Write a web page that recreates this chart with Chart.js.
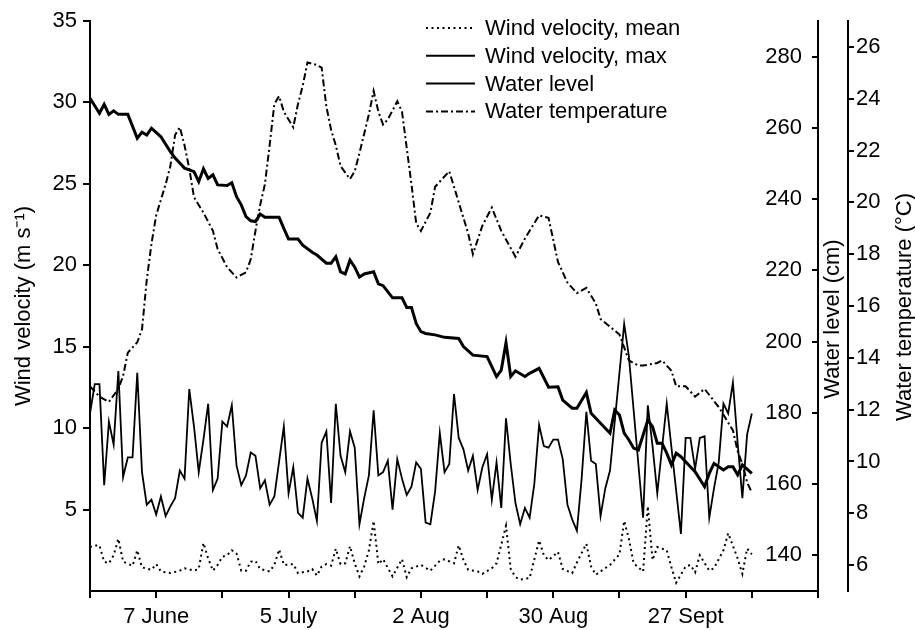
<!DOCTYPE html>
<html>
<head>
<meta charset="utf-8">
<script src="https://cdn.jsdelivr.net/npm/chart.js@4.4.0/dist/chart.umd.min.js"></script>
<style>
  html, body { margin: 0; padding: 0; background: #fff; }
</style>
</head>
<body>
<canvas id="myChart" width="915" height="630"></canvas>
<script>
// days counted from 24 May (x tick every 14 days)
const xTicks = [0, 14, 28, 42, 56, 70, 84, 98, 112, 126, 140, 154];
const xTickLabels = ['', '7 June', '', '5 July', '', '2 Aug', '', '30 Aug', '', '27 Sept', '', ''];
const windTicks = [5, 10, 15, 20, 25, 30, 35];
const levelTicks = [140, 160, 180, 200, 220, 240, 260, 280];
const tempTicks = [6, 8, 10, 12, 14, 16, 18, 20, 22, 24, 26];

const windMeanDays = [0,1,2,3,4,5,6,7,9,10,11,13,14,15,17,19,20,22,23,24,25,26,27,28,29,30,31,32,33,34,35,36,38,39,40,41,43,44,46,47,48,49,50,51,52,53,54,55,56,57,58,59,60,61,62,64,66,67,68,70,72,74,75,77,78,79,80,82,83,85,86,88,89,90,91,93,95,96,97,99,100,102,103,105,106,107,108,110,112,113,114,115,117,118,119,120,122,123,124,126,127,128,129,131,132,134,135,137,138,139,140];
const windMean = [2.7,2.8,2.8,1.8,1.7,2.2,3.2,1.8,1.55,2.5,1.45,1.3,1.65,1.2,1.1,1.25,1.4,1.25,1.35,2.95,2.0,1.25,1.6,2.1,2.2,2.5,2.3,1.25,1.25,1.8,1.85,1.35,1.2,1.6,2.55,1.6,1.65,1.1,1.2,1.35,0.95,1.5,1.65,1.55,2.6,1.65,1.7,2.75,1.7,0.9,1.5,2.5,4.3,1.65,1.95,0.9,1.95,0.85,1.4,1.6,1.25,1.85,1.95,1.7,2.8,1.9,1.3,1.2,1.05,1.4,1.7,4.0,1.35,0.85,0.7,0.8,3.1,2.2,1.9,2.4,1.35,1.1,1.75,2.9,1.5,1.0,1.2,1.6,2.25,4.3,3.2,1.7,1.2,5.2,1.9,2.7,2.5,1.45,0.5,1.5,1.6,1.15,2.2,1.25,1.4,2.5,3.55,2.0,1.05,2.6,2.25];

const windMaxDays = [0,1,2,3,4,5,6,7,8,9,10,11,12,13,14,15,16,17,18,19,20,21,22,23,24,25,26,27,28,29,30,31,32,33,34,35,36,37,38,39,41,42,43,44,45,46,47,48,49,50,51,52,53,54,55,56,57,58,59,60,61,62,63,64,65,66,67,68,69,70,71,72,73,74,75,76,77,78,79,80,81,82,83,84,85,86,87,88,89,90,91,92,93,94,95,96,97,98,99,100,101,102,103,104,105,106,107,108,109,110,113,114,117,118,119,120,122,123,125,126,127,128,129,130,131,132,133,134,135,136,137,138,139,140];
const windMax = [10.9,12.7,12.7,6.5,10.4,9.0,13.5,7.0,8.2,8.2,13.4,7.3,5.3,5.6,4.7,5.8,4.6,5.2,5.7,7.4,6.9,12.4,10.1,7.3,9.3,11.5,6.2,6.9,10.4,10.1,11.4,7.7,6.5,7.1,8.5,8.3,6.3,6.8,5.3,5.8,10.1,6.0,7.6,4.8,4.5,6.9,5.7,4.3,9.1,9.8,5.4,11.5,8.3,7.3,9.8,8.8,4.1,5.7,7.1,11.1,7.1,7.3,8.0,5.0,8.1,6.9,5.9,6.4,7.9,7.5,4.2,4.1,6.1,9.7,7.3,7.8,12.1,9.4,8.7,7.4,8.3,6.2,7.6,8.4,5.6,7.9,5.1,10.6,7.8,5.4,4.1,5.1,4.5,6.6,10.2,8.9,8.8,9.3,9.3,8.1,5.3,4.4,3.7,6.9,11.0,8.0,7.8,4.6,6.3,7.4,16.4,14.4,4.5,11.4,8.9,6.0,11.5,8.8,3.5,9.4,9.4,7.5,9.4,9.5,4.5,6.3,7.9,11.5,10.9,12.8,9.1,5.7,9.6,10.9];

const levelDays = [0,2,3,4,5,6,8,10,11,12,13,15,17,18,20,22,23,24,25,26,27,29,30,31,32,33,34,35,36,37,40,41,42,44,45,47,48,50,51,52,53,54,55,56,57,58,60,61,62,64,66,67,68,69,70,71,73,75,78,79,81,84,86,87,88,89,90,92,93,95,97,99,100,102,103,105,106,110,111,112,113,114,115,116,118,119,120,121,122,123,124,125,127,128,130,131,132,134,135,136,137,138,140];
const waterLevel = [268.3,264.1,266.6,263.8,264.8,263.8,263.8,257.1,258.8,258.0,259.9,257.5,253.3,251.5,248.7,247.7,244.9,248.5,245.8,246.8,244.0,243.8,244.6,240.7,238.4,235.1,233.9,233.7,235.8,234.9,234.9,231.8,228.8,228.8,227.1,225.1,224.3,222.0,222.0,223.8,219.6,219.0,222.9,220.9,218.1,219.0,219.6,216.2,215.7,212.3,212.3,209.6,209.6,205.1,202.8,202.3,201.9,201.2,200.9,198.6,196.2,195.8,190.2,192.0,199.7,190.2,191.8,190.2,191.1,192.5,187.2,187.3,183.6,181.3,181.3,185.7,179.9,174.3,180.8,179.4,174.3,172.4,170.1,169.6,178.0,176.1,171.5,171.5,168.7,165.4,168.7,167.7,164.9,163.5,159.3,163.0,165.8,164.0,164.9,164.9,162.6,165.4,163.0];

const tempDays = [0,2,4,6,7,8,10,11,12,13,14,16,17,18,19,20,21,22,24,26,27,29,31,33,34,35,36,37,38,39,40,41,43,44,45,46,48,49,50,51,52,53,55,56,57,59,60,61,62,63,65,66,67,68,69,70,72,73,76,78,80,81,83,85,87,90,92,95,97,99,101,103,105,107,108,110,112,114,116,117,120,121,123,124,126,128,130,133,134,136,137,138,139,140];
const waterTemp = [12.9,12.5,12.3,12.8,13.3,14.2,14.6,15.1,17.0,18.4,19.5,20.7,21.4,22.6,22.9,22.2,21.3,20.2,19.6,18.9,18.2,17.5,17.1,17.3,17.8,18.9,19.9,20.7,22.2,23.8,24.1,23.5,22.9,23.8,24.5,25.4,25.3,25.2,23.7,22.8,22.2,21.4,20.9,21.2,21.9,23.4,24.3,23.5,23.0,23.2,23.9,23.5,22.1,20.7,19.2,18.9,19.6,20.6,21.2,20.0,18.8,18.0,19.1,19.8,18.9,17.9,18.6,19.5,19.4,17.7,16.9,16.5,16.7,16.1,15.5,15.2,14.9,13.9,13.7,13.7,13.8,13.9,13.5,12.9,12.9,12.5,12.8,12.1,11.8,11.2,10.4,9.9,9.2,8.8];

const windTitle = 'Wind velocity (m s\u207B\u00B9)';
const levelTitle = 'Water level (cm)';
const tempTitle = 'Water temperature (\u00B0C)';

const FONT = "'Liberation Sans', Arial, sans-serif";
Chart.defaults.font.family = FONT;
Chart.defaults.font.size = 22;
Chart.defaults.color = '#000';

const toPoints = (xs, ys) => xs.map((x, i) => ({x: x, y: ys[i]}));
const fixTicks = vals => scale => { scale.ticks = vals.map(v => ({value: v})); };
const axisLine = { color: '#000', width: 2 };

// legend, inward ticks of the water level axis, right-hand titles
const figureExtras = {
    id: 'figureExtras',
    afterDraw(chart) {
        const c = chart.ctx;
        const lvl = chart.scales.y1;
        c.save();
        c.strokeStyle = '#000';
        c.fillStyle = '#000';
        c.lineWidth = 2;
        lvl.ticks.forEach(t => {
            const y = Math.round(lvl.getPixelForValue(t.value));
            c.beginPath();
            c.moveTo(lvl.left - 6, y);
            c.lineTo(lvl.left, y);
            c.stroke();
        });
        c.font = '22px ' + FONT;
        c.textAlign = 'center';
        c.textBaseline = 'middle';
        [[levelTitle, 833, 319], [tempTitle, 905, 307]].forEach(([txt, x, y]) => {
            c.save();
            c.translate(x, y);
            c.rotate(-Math.PI / 2);
            c.fillText(txt, 0, 0);
            c.restore();
        });
        c.textAlign = 'left';
        chart.data.datasets.forEach((ds, i) => {
            const y = 28 + i * 27.8;
            c.save();
            c.setLineDash(ds.borderDash || []);
            c.lineWidth = 2;
            c.beginPath();
            c.moveTo(426, y);
            c.lineTo(475, y);
            c.stroke();
            c.restore();
            c.fillText(ds.label, 485, y + 1);
        });
        c.restore();
    }
};

var ctx = document.getElementById('myChart').getContext('2d');
const chart = new Chart(ctx, {
    type: 'line',
    data: {
        datasets: [
            { label: 'Wind velocity, mean', data: toPoints(windMeanDays, windMean), yAxisID: 'y',
              borderColor: '#000', borderWidth: 2, borderDash: [2, 3.5] },
            { label: 'Wind velocity, max', data: toPoints(windMaxDays, windMax), yAxisID: 'y',
              borderColor: '#000', borderWidth: 1.8 },
            { label: 'Water level', data: toPoints(levelDays, waterLevel), yAxisID: 'y1',
              borderColor: '#000', borderWidth: 3 },
            { label: 'Water temperature', data: toPoints(tempDays, waterTemp), yAxisID: 'y2',
              borderColor: '#000', borderWidth: 2, borderDash: [7, 3, 2, 3] }
        ]
    },
    options: {
        responsive: false,
        animation: false,
        elements: { point: { radius: 0 }, line: { tension: 0, fill: false } },
        layout: { padding: { top: 21, left: 0, right: 0, bottom: 0 } },
        plugins: { legend: { display: false }, tooltip: { enabled: false } },
        scales: {
            x: {
                type: 'linear', position: 'bottom', min: 0, max: 154,
                afterBuildTicks: fixTicks(xTicks),
                afterFit: s => { s.height = 39; },
                grid: { drawOnChartArea: false, tickLength: 7, color: '#000', lineWidth: 2 },
                border: axisLine,
                ticks: { autoSkip: false, maxRotation: 0, minRotation: 0, padding: 6,
                         callback: (v, i) => xTickLabels[i] }
            },
            y: {
                position: 'left', min: 0, max: 35,
                afterBuildTicks: fixTicks(windTicks),
                afterFit: s => { s.width = 90; },
                grid: { drawOnChartArea: false, tickLength: 7, color: '#000', lineWidth: 2 },
                border: axisLine,
                ticks: { padding: 6 },
                title: { display: true, text: windTitle, padding: { top: 11, bottom: 0 } }
            },
            y1: {
                position: 'right', min: 130, max: 290,
                afterBuildTicks: fixTicks(levelTicks),
                afterFit: s => { s.width = 30; },
                grid: { display: false },
                border: axisLine,
                ticks: { mirror: true, padding: -16 }
            },
            y2: {
                position: 'right', weight: 1, min: 5, max: 27,
                afterBuildTicks: fixTicks(tempTicks),
                afterFit: s => { s.width = 67; },
                grid: { drawOnChartArea: false, tickLength: 6, color: '#000', lineWidth: 2 },
                border: axisLine,
                ticks: { padding: 2 }
            }
        }
    },
    plugins: [figureExtras]
});
</script>
</body>
</html>
